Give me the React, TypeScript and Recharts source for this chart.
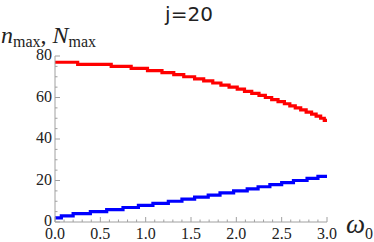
import React from "react";
import { LineChart, Line, XAxis, YAxis } from "recharts";

// step points: omega where the value switches, and the new value
const redOmega = [0, 0.25, 0.62, 0.84, 1.02, 1.18, 1.31, 1.42, 1.54, 1.64, 1.74, 1.83, 1.92, 2.01, 2.09, 2.17, 2.25, 2.32, 2.39, 2.46, 2.53, 2.59, 2.65, 2.71, 2.77, 2.83, 2.88, 2.93, 2.97, 3.0];
const redN = [77, 76, 75, 74, 73, 72, 71, 70, 69, 68, 67, 66, 65, 64, 63, 62, 61, 60, 59, 58, 57, 56, 55, 54, 53, 52, 51, 50, 49, 49];
const blueOmega = [0, 0.07, 0.2, 0.39, 0.57, 0.75, 0.92, 1.08, 1.25, 1.4, 1.54, 1.69, 1.82, 1.97, 2.12, 2.24, 2.37, 2.5, 2.63, 2.78, 2.9, 3.0];
const blueN = [2, 3, 4, 5, 6, 7, 8, 9, 10, 11, 12, 13, 14, 15, 16, 17, 18, 19, 20, 21, 22, 22];

const xMajor = [0, 0.5, 1, 1.5, 2, 2.5, 3];
const xTicks = [0, 0.1, 0.2, 0.3, 0.4, 0.5, 0.6, 0.7, 0.8, 0.9, 1, 1.1, 1.2, 1.3, 1.4, 1.5, 1.6, 1.7, 1.8, 1.9, 2, 2.1, 2.2, 2.3, 2.4, 2.5, 2.6, 2.7, 2.8, 2.9, 3];
const yMajor = [0, 20, 40, 60, 80];
const yTicks = [0, 5, 10, 15, 20, 25, 30, 35, 40, 45, 50, 55, 60, 65, 70, 75, 80];

const red = redOmega.map((w, i) => ({ w, n: redN[i] }));
const blue = blueOmega.map((w, i) => ({ w, n: blueN[i] }));

const axisColor = "#a0a0a0";
const serif = "'Liberation Serif', 'DejaVu Serif', serif";
const isMajor = (list: number[], v: number) => list.some((m) => Math.abs(m - v) < 1e-6);

function XTick({ x, y, payload }: any) {
  const major = isMajor(xMajor, payload.value);
  return (
    <g>
      <line x1={x} x2={x} y1={y} y2={y - (major ? 5 : 2.5)} stroke={axisColor} />
      {major && (
        <text x={x} y={y + 16.5} textAnchor="middle" fontFamily={serif} fontSize={16} fill="#222">
          {payload.value.toFixed(1)}
        </text>
      )}
    </g>
  );
}

function YTick({ x, y, payload }: any) {
  const major = isMajor(yMajor, payload.value);
  return (
    <g>
      <line x1={x} x2={x + (major ? 5 : 2.5)} y1={y} y2={y} stroke={axisColor} />
      {major && (
        <text x={x - 3} y={y + 4} textAnchor="end" fontFamily={serif} fontSize={16} fill="#222">
          {payload.value}
        </text>
      )}
    </g>
  );
}

export default function App() {
  return (
    <div style={{ position: "absolute", left: 0, top: 0, width: 374, height: 242, background: "#fff" }}>
      <LineChart width={374} height={242} margin={{ top: 56, right: 47, bottom: 0, left: 0 }}>
        <XAxis
          type="number"
          dataKey="w"
          domain={[0, 3]}
          ticks={xTicks}
          interval={0}
          tick={<XTick />}
          tickLine={false}
          tickSize={0}
          tickMargin={0}
          axisLine={{ stroke: axisColor }}
          height={20}
        />
        <YAxis
          type="number"
          domain={[0, 80]}
          ticks={yTicks}
          interval={0}
          tick={<YTick />}
          tickLine={false}
          tickSize={0}
          tickMargin={0}
          axisLine={{ stroke: axisColor }}
          width={55}
        />
        <Line data={red} dataKey="n" type="stepAfter" stroke="#ff0000" strokeWidth={3.2} dot={false} isAnimationActive={false} />
        <Line data={blue} dataKey="n" type="stepAfter" stroke="#0000ff" strokeWidth={3.2} dot={false} isAnimationActive={false} />
      </LineChart>
      <svg width={374} height={242} style={{ position: "absolute", left: 0, top: 0, pointerEvents: "none" }}>
        <text x={189} y={21} textAnchor="middle" fontFamily="'DejaVu Sans', sans-serif" fontSize={20} fill="#222">
          j=20
        </text>
        <text x={1} y={43} fontFamily={serif} fontSize={24} fill="#222">
          <tspan fontStyle="italic">n</tspan>
          <tspan fontSize={16} dy={4}>max</tspan>
          <tspan dy={-4}>, </tspan>
          <tspan fontStyle="italic">N</tspan>
          <tspan fontSize={16} dy={4}>max</tspan>
        </text>
        <text x={346} y={233} fontFamily={serif} fontSize={27} fill="#222">
          <tspan fontStyle="italic">ω</tspan>
          <tspan fontSize={16} dy={6}>0</tspan>
        </text>
      </svg>
    </div>
  );
}
